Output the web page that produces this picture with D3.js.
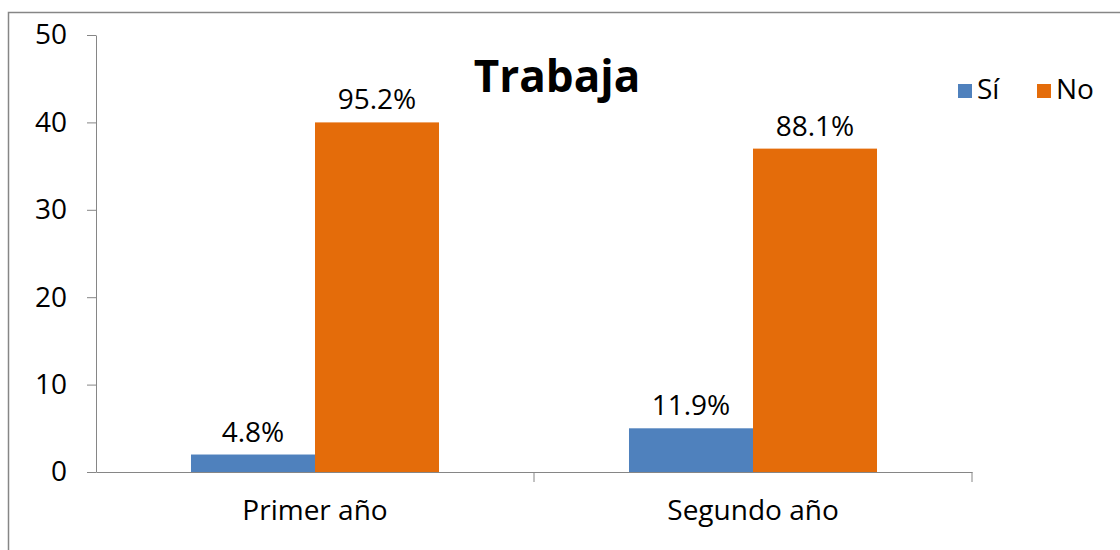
<!DOCTYPE html>
<html>
<head>
<meta charset="utf-8">
<script src="https://cdn.jsdelivr.net/npm/d3@7"></script>
<style>
  body { margin: 0; background: #fff; }
  svg text { font-family: "Open Sans", Lato, sans-serif; fill: #000; }
</style>
</head>
<body>
<svg id="chart" width="1120" height="550"></svg>
<script>
// Data
const categories = ['Primer año', 'Segundo año'];
const seriesNames = ['Sí', 'No'];
const siValues = [2, 5];
const noValues = [40, 37];
const siLabels = ['4.8%', '11.9%'];
const noLabels = ['95.2%', '88.1%'];
const yTicks = [0, 10, 20, 30, 40, 50];
const colors = ['#4F81BD', '#E46C0A'];

const svg = d3.select('#chart');
const margin = { top: 35, left: 96, right: 150, bottom: 78 };
const fontSize = '28px';

// frame
svg.append('rect')
    .attr('x', 8.5).attr('y', 12.5)
    .attr('width', 1130).attr('height', 560)
    .attr('fill', 'none').attr('stroke', '#868686').attr('stroke-width', 1.5);

const x = d3.scaleBand()
    .domain(categories)
    .range([margin.left, 972])
    .paddingInner(0).paddingOuter(0);

const xInner = d3.scaleBand()
    .domain(seriesNames)
    .range([0, x.bandwidth()])
    .paddingInner(0)
    .paddingOuter(0.766);

const y = d3.scaleLinear()
    .domain([0, 50])
    .range([472, 35]);

// y axis
const yAxis = svg.append('g')
    .attr('transform', `translate(${margin.left},0)`)
    .call(d3.axisLeft(y).tickValues(yTicks).tickSize(9).tickPadding(20).tickSizeOuter(0));
yAxis.select('.domain').attr('stroke', '#868686');
yAxis.selectAll('.tick line').attr('stroke', '#868686');
yAxis.selectAll('.tick text').style('font-size', fontSize).attr('fill', '#000');

// bars
const rows = categories.map((c, i) => ({ cat: c, vals: [siValues[i], noValues[i]], labs: [siLabels[i], noLabels[i]] }));

const groups = svg.append('g').selectAll('g')
    .data(rows)
    .join('g')
    .attr('transform', d => `translate(${x(d.cat)},0)`);

groups.selectAll('rect')
    .data(d => d.vals.map((v, j) => ({ key: seriesNames[j], v, j })))
    .join('rect')
    .attr('x', d => xInner(d.key))
    .attr('y', d => y(d.v))
    .attr('width', xInner.bandwidth())
    .attr('height', d => y(0) - y(d.v))
    .attr('fill', d => colors[d.j]);

groups.selectAll('text.val')
    .data(d => d.vals.map((v, j) => ({ key: seriesNames[j], v, lab: d.labs[j] })))
    .join('text')
    .attr('class', 'val')
    .attr('x', d => xInner(d.key) + xInner.bandwidth() / 2)
    .attr('y', d => y(d.v) - 13)
    .attr('text-anchor', 'middle')
    .style('font-size', fontSize)
    .text(d => d.lab);

// x axis
const xAxis = svg.append('g')
    .attr('transform', `translate(0,${y(0)})`)
    .call(d3.axisBottom(x).tickSize(0).tickPadding(28));
xAxis.select('.domain').attr('stroke', '#868686');
xAxis.selectAll('.tick text').style('font-size', fontSize).attr('fill', '#000');

// category separators
svg.append('g').selectAll('line')
    .data(categories.slice(1).concat(['end']))
    .join('line')
    .attr('x1', (d, i) => i < categories.length - 1 ? x(d) : x.range()[1])
    .attr('x2', (d, i) => i < categories.length - 1 ? x(d) : x.range()[1])
    .attr('y1', y(0)).attr('y2', y(0) + 10)
    .attr('stroke', '#868686');

// title
svg.append('text')
    .attr('x', 557).attr('y', 92)
    .attr('text-anchor', 'middle')
    .style('font-size', '44px')
    .style('font-weight', 'bold')
    .text('Trabaja');

// legend
const legendX = [958, 1037];
const legend = svg.append('g').selectAll('g')
    .data(seriesNames)
    .join('g')
    .attr('transform', (d, i) => `translate(${legendX[i]},84)`);
legend.append('rect')
    .attr('width', 14).attr('height', 14)
    .attr('fill', (d, i) => colors[i]);
legend.append('text')
    .attr('x', 19).attr('y', 15)
    .style('font-size', fontSize)
    .text(d => d);
</script>
</body>
</html>
